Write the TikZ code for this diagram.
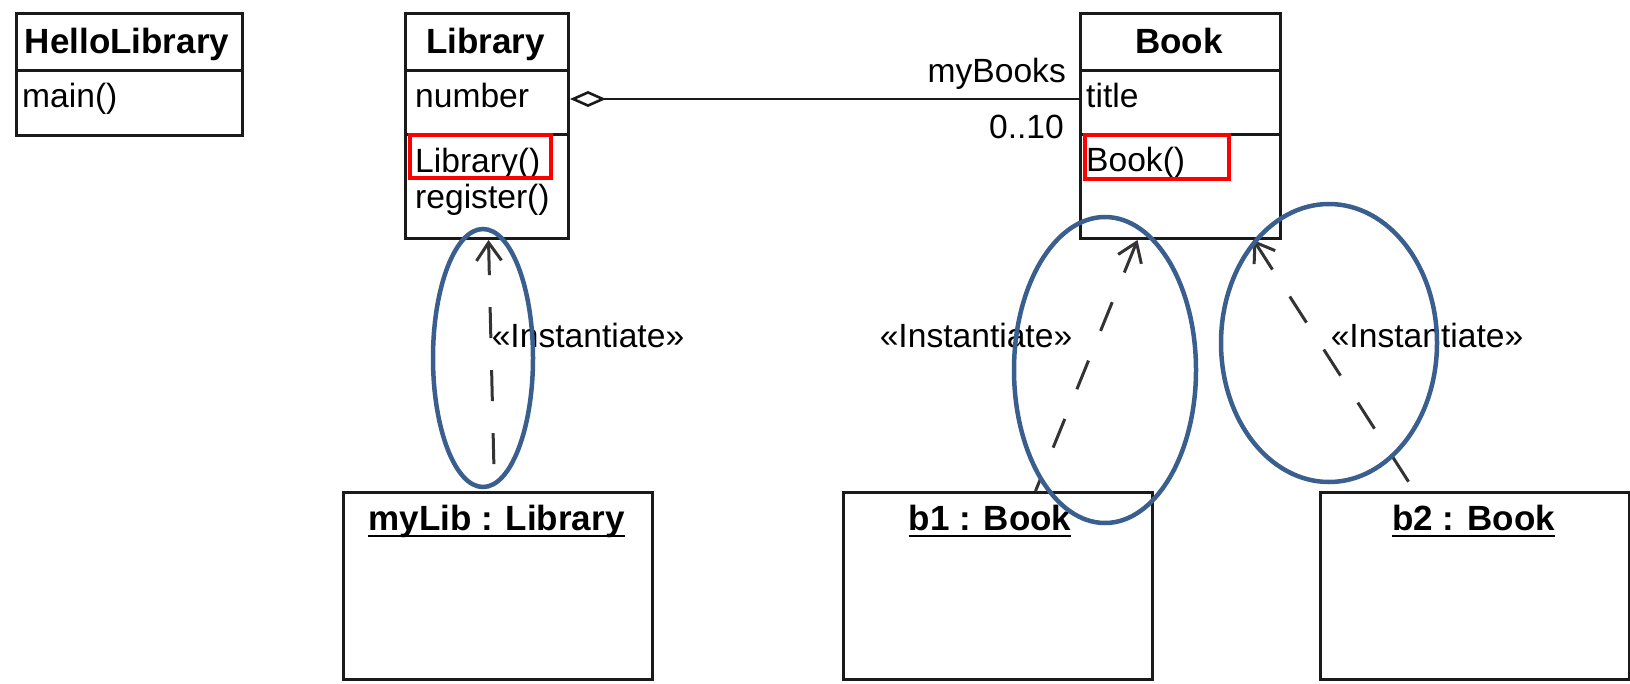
\documentclass[tikz,border=0pt]{standalone}
\usepackage{fontspec}
\setmainfont{Liberation Sans}
\usetikzlibrary{arrows.meta}
\definecolor{umlline}{HTML}{1A1A1A}
\definecolor{depline}{HTML}{333333}
\definecolor{ringblue}{HTML}{3A5F8E}
\definecolor{markred}{HTML}{FF0000}
\newsavebox\objnamebox
\newcommand{\objname}[1]{\sbox\objnamebox{#1}\rlap{\rule[-7pt]{\wd\objnamebox}{2.5pt}}\usebox\objnamebox}

\begin{document}
\begin{tikzpicture}[x=1pt,y=-1pt,
  txt/.style={font=\fontsize{33.6}{38}\selectfont, inner sep=0pt, text=black},
  titletext/.style={font=\fontsize{35}{40}\selectfont\bfseries, inner sep=0pt, text=black},
  umlbox/.style={draw=umlline, line width=3pt, fill=white, inner sep=0pt, anchor=north west},
  divider/.style={draw=umlline, line width=3pt},
  assoc/.style={draw=umlline, line width=2.6pt, {Diamond[open, length=36pt, width=16pt]}-},
  dep/.style={draw=depline, line width=3pt, dash pattern=on 31pt off 32pt,
    {Straight Barb[length=18pt, width=25pt]}-},
  ring/.style={draw=ringblue, line width=4.5pt},
  redframe/.style={draw=markred, line width=4pt}
]
\useasboundingbox (0,0) rectangle (1630,683);

% class boxes
\node[umlbox, minimum width=226pt, minimum height=122pt] (hello) at (15,12) {};
\node[umlbox, minimum width=163pt, minimum height=225pt] (lib) at (404,12) {};
\node[umlbox, minimum width=200pt, minimum height=225pt] (book) at (1079,12) {};

% compartment separators
\draw[divider] ([yshift=-58pt]hello.north west) -- ([yshift=-58pt]hello.north east);
\draw[divider] ([yshift=-58pt]lib.north west) -- ([yshift=-58pt]lib.north east);
\draw[divider] ([yshift=-122pt]lib.north west) -- ([yshift=-122pt]lib.north east);
\draw[divider] ([yshift=-58pt]book.north west) -- ([yshift=-58pt]book.north east);
\draw[divider] ([yshift=-122pt]book.north west) -- ([yshift=-122pt]book.north east);

% class texts
\node[titletext, anchor=base] (helloT) at (127,53) {HelloLibrary};
\node[txt, anchor=base west] (helloM) at (22,107) {main()};
\node[titletext, anchor=base] (libT) at (485.5,53) {Library};
\node[txt, anchor=base west] (libA) at (415,107) {number};
\node[txt, anchor=base west] (libM1) at (415,172) {Library()};
\node[txt, anchor=base west] (libM2) at (415,208) {register()};
\node[titletext, anchor=base] (bookT) at (1179,53) {Book};
\node[txt, anchor=base west] (bookA) at (1086,107) {title};
\node[txt, anchor=base west] (bookM) at (1086,171) {Book()};

% association
\draw[assoc] ([yshift=-87pt]lib.north east) -- ([yshift=-87pt]book.north west);
\node[txt, anchor=base east] (role) at (1066,82) {myBooks};
\node[txt, anchor=base east] (mult) at (1064,138) {0..10};

% object boxes
\node[umlbox, minimum width=309pt, minimum height=187pt] (mylib) at (342,491) {};
\node[umlbox, minimum width=309pt, minimum height=187pt] (b1) at (842,491) {};
\node[umlbox, minimum width=309pt, minimum height=187pt] (b2) at (1319,491) {};
\node[titletext, anchor=base] (mylibT) at (496.5,530) {\objname{myLib : Library}};
\node[titletext, anchor=base] (b1T) at (990,530) {\objname{b1 : Book}};
\node[titletext, anchor=base] (b2T) at (1473.5,530) {\objname{b2 : Book}};

% instantiation dependencies
\draw[dep] ([xshift=1.5pt]lib.south) -- ([xshift=-3.5pt]mylib.north);
\draw[dep] ([xshift=-43pt]book.south) -- ([xshift=37.5pt]b1.north);
\draw[dep] ([xshift=73pt]book.south) -- ([xshift=-60.5pt]b2.north);
\node[txt, anchor=base] (st1) at (588,347) {«Instantiate»};
\node[txt, anchor=base] (st2) at (976,347) {«Instantiate»};
\node[txt, anchor=base] (st3) at (1427,347) {«Instantiate»};

% highlight marks
\draw[redframe] (410,135) rectangle (551,178);
\draw[redframe] (1085,135) rectangle (1229,179);
\draw[ring] (483,358) ellipse [x radius=50, y radius=129];
\draw[ring] (1105,370) ellipse [x radius=91, y radius=153];
\draw[ring] (1329,343) ellipse [x radius=108, y radius=139];
\end{tikzpicture}
\end{document}
